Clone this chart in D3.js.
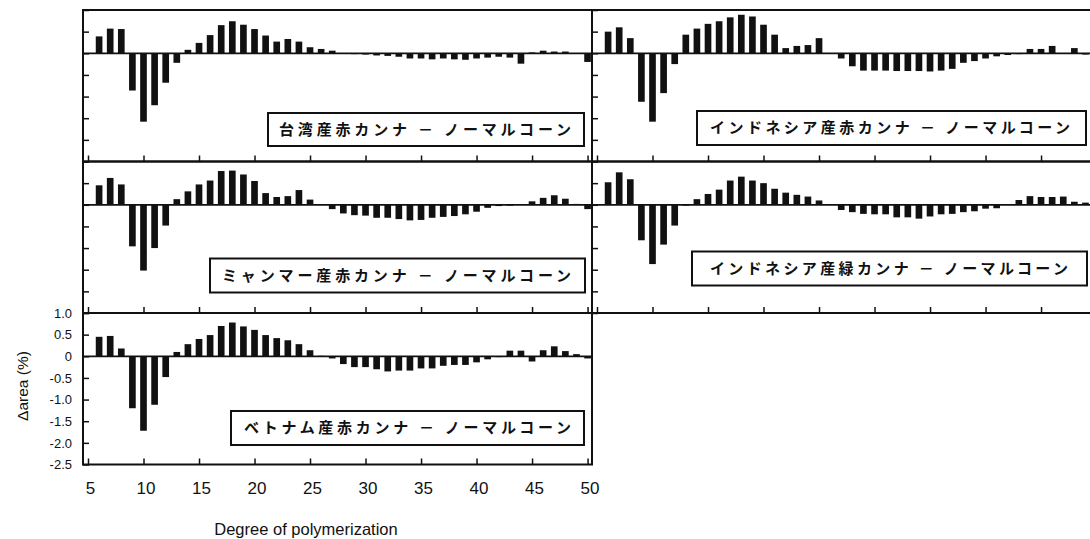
<!DOCTYPE html>
<html>
<head>
<meta charset="utf-8">
<script src="https://cdn.jsdelivr.net/npm/d3@7"></script>
<style>
  html, body { margin: 0; padding: 0; background: #fff; }
  svg { display: block; }
</style>
</head>
<body>
<script>
// Degree of polymerization (x categories)
const dp = [6, 7, 8, 9, 10, 11, 12, 13, 14, 15, 16, 17, 18, 19, 20, 21, 22, 23, 24, 25,
            26, 27, 28, 29, 30, 31, 32, 33, 34, 35, 36, 37, 38, 39, 40, 41, 42, 43, 44, 45,
            46, 47, 48, 49, 50];

// Δarea (%) relative to normal corn, one series per sample
const taiwanRed = [0.39, 0.57, 0.56, -0.86, -1.58, -1.20, -0.68, -0.22, 0.08, 0.24, 0.42, 0.65, 0.74, 0.66, 0.56,
  0.41, 0.27, 0.33, 0.27, 0.14, 0.10, 0.06, 0.00, -0.02, -0.03, -0.05, -0.06, -0.08, -0.12, -0.12, -0.14, -0.12,
  -0.14, -0.15, -0.12, -0.10, -0.08, -0.10, -0.24, 0.02, 0.06, 0.04, 0.04, 0.00, -0.20];

const indonesiaRed = [0.50, 0.60, 0.35, -1.12, -1.58, -0.92, -0.25, 0.43, 0.57, 0.68, 0.74, 0.83, 0.89, 0.85, 0.66,
  0.43, 0.12, 0.17, 0.19, 0.35, 0.00, -0.12, -0.30, -0.40, -0.40, -0.40, -0.41, -0.41, -0.41, -0.42, -0.40, -0.36,
  -0.22, -0.18, -0.12, -0.07, -0.04, -0.02, 0.10, 0.10, 0.17, 0.00, 0.12, -0.03, -0.02];

const myanmarRed = [0.45, 0.62, 0.47, -0.96, -1.52, -1.00, -0.48, 0.13, 0.31, 0.47, 0.56, 0.78, 0.79, 0.70, 0.55,
  0.27, 0.18, 0.20, 0.34, 0.12, 0.00, -0.10, -0.20, -0.24, -0.25, -0.30, -0.30, -0.33, -0.36, -0.35, -0.30, -0.28,
  -0.26, -0.22, -0.16, -0.07, -0.03, -0.02, 0.00, 0.08, 0.16, 0.22, 0.14, 0.02, -0.10];

const indonesiaGreen = [0.52, 0.75, 0.59, -0.82, -1.37, -0.92, -0.48, -0.02, 0.13, 0.25, 0.35, 0.56, 0.65, 0.56, 0.50,
  0.37, 0.28, 0.23, 0.19, 0.10, 0.00, -0.12, -0.17, -0.21, -0.22, -0.22, -0.29, -0.29, -0.32, -0.27, -0.22, -0.21,
  -0.17, -0.15, -0.09, -0.08, 0.00, 0.11, 0.20, 0.18, 0.18, 0.19, 0.07, 0.05, 0.02];

const vietnamRed = [0.45, 0.47, 0.18, -1.20, -1.72, -1.12, -0.48, 0.10, 0.28, 0.40, 0.49, 0.70, 0.78, 0.69, 0.61,
  0.49, 0.42, 0.37, 0.28, 0.14, 0.01, -0.05, -0.18, -0.25, -0.25, -0.30, -0.35, -0.33, -0.33, -0.28, -0.28, -0.22,
  -0.20, -0.20, -0.14, -0.07, -0.02, 0.13, 0.13, -0.12, 0.14, 0.23, 0.12, 0.05, -0.05];

// Panel titles
const titles = [
  "台湾産赤カンナ － ノーマルコーン",
  "インドネシア産赤カンナ － ノーマルコーン",
  "ミャンマー産赤カンナ － ノーマルコーン",
  "インドネシア産緑カンナ － ノーマルコーン",
  "ベトナム産赤カンナ － ノーマルコーン"
];

// Axis ticks
const xTicks = [5, 10, 15, 20, 25, 30, 35, 40, 45, 50];
const yTicks = [1.0, 0.5, 0, -0.5, -1.0, -1.5, -2.0, -2.5];
const yTickLabels = ["1.0", "0.5", "0", "-0.5", "-1.0", "-1.5", "-2.0", "-2.5"];

const xTitle = "Degree of polymerization";
const yTitle = "Δarea (%)";

// ---- layout ----
const W = 1090, H = 539;
const colX = [83, 592];
const rowY = [10, 161.5, 313];
const pw = 509, ph = 151.5;

const panels = [
  { values: taiwanRed,      title: titles[0], col: 0, row: 0, box: [185, 103, 316, 33], text: [196, 292] },
  { values: indonesiaRed,   title: titles[1], col: 1, row: 0, box: [105, 101, 389, 34], text: [118, 360] },
  { values: myanmarRed,     title: titles[2], col: 0, row: 1, box: [127, 97, 375, 34],  text: [139, 349] },
  { values: indonesiaGreen, title: titles[3], col: 1, row: 1, box: [100, 90, 395, 34],  text: [118, 358] },
  { values: vietnamRed,     title: titles[4], col: 0, row: 2, box: [148, 98, 353, 34],  text: [161, 327], labelled: true }
];

const svg = d3.select("body").append("svg")
  .attr("width", W).attr("height", H)
  .attr("font-family", "'Liberation Sans', Arial, sans-serif");

const x = d3.scaleLinear().domain([4.55, 50.4]).range([0, pw]);
const y = d3.scaleLinear().domain([-2.5, 1.0]).range([ph, 0]);
const barW = (x(6) - x(5)) * 0.6;
const ink = "#111";

panels.forEach(p => {
  const g = svg.append("g")
    .attr("transform", `translate(${colX[p.col]},${rowY[p.row]})`);

  // bars
  g.selectAll("rect.bar")
    .data(dp.map((d, i) => ({ dp: d, v: p.values[i] })))
    .join("rect")
    .attr("class", "bar")
    .attr("x", d => x(d.dp) - barW / 2)
    .attr("width", barW)
    .attr("y", d => y(Math.max(d.v, 0)))
    .attr("height", d => Math.abs(y(d.v) - y(0)))
    .attr("fill", ink);

  // zero baseline
  g.append("line")
    .attr("x1", 0).attr("x2", pw)
    .attr("y1", y(0)).attr("y2", y(0))
    .attr("stroke", ink).attr("stroke-width", 1.7);

  // x axis (ticks point inward)
  const xa = g.append("g")
    .attr("transform", `translate(0,${ph})`)
    .call(d3.axisBottom(x).tickValues(xTicks)
      .tickSizeInner(-6).tickSizeOuter(0).tickPadding(17)
      .tickFormat(p.labelled ? d3.format("d") : () => ""));
  xa.select(".domain").remove();
  xa.selectAll("line").attr("stroke", ink).attr("stroke-width", 1.5);
  xa.selectAll("text").attr("font-size", 17).attr("fill", ink).attr("dx", 2);

  // y axis (ticks point inward)
  const ya = g.append("g")
    .call(d3.axisLeft(y).tickValues(yTicks)
      .tickSizeInner(-6).tickSizeOuter(0).tickPadding(11)
      .tickFormat(p.labelled ? (d, i) => yTickLabels[i] : () => ""));
  ya.select(".domain").remove();
  ya.selectAll("line").attr("stroke", ink).attr("stroke-width", 1.5);
  ya.selectAll("text").attr("font-size", 13).attr("fill", ink);

  // panel frame
  g.append("rect")
    .attr("x", 0).attr("y", 0).attr("width", pw).attr("height", ph)
    .attr("fill", "none").attr("stroke", ink).attr("stroke-width", 2);

  // title box
  const [bx, by, bw, bh] = p.box;
  g.append("rect")
    .attr("x", bx).attr("y", by).attr("width", bw).attr("height", bh)
    .attr("fill", "#fff").attr("stroke", ink).attr("stroke-width", 2);
  g.append("text")
    .attr("x", p.text[0]).attr("y", by + bh / 2)
    .attr("dy", "0.36em")
    .attr("textLength", p.text[1])
    .attr("lengthAdjust", "spacing")
    .attr("font-family", "'Noto Sans CJK JP', sans-serif")
    .attr("font-weight", 700)
    .attr("font-size", 15)
    .attr("fill", ink)
    .text(p.title);
});

// axis titles
svg.append("text")
  .attr("x", 306).attr("y", 535)
  .attr("text-anchor", "middle")
  .attr("font-size", 16.5)
  .attr("fill", ink)
  .text(xTitle);

svg.append("text")
  .attr("transform", "translate(28,386) rotate(-90)")
  .attr("text-anchor", "middle")
  .attr("font-size", 15.5)
  .attr("fill", ink)
  .text(yTitle);
</script>
</body>
</html>
